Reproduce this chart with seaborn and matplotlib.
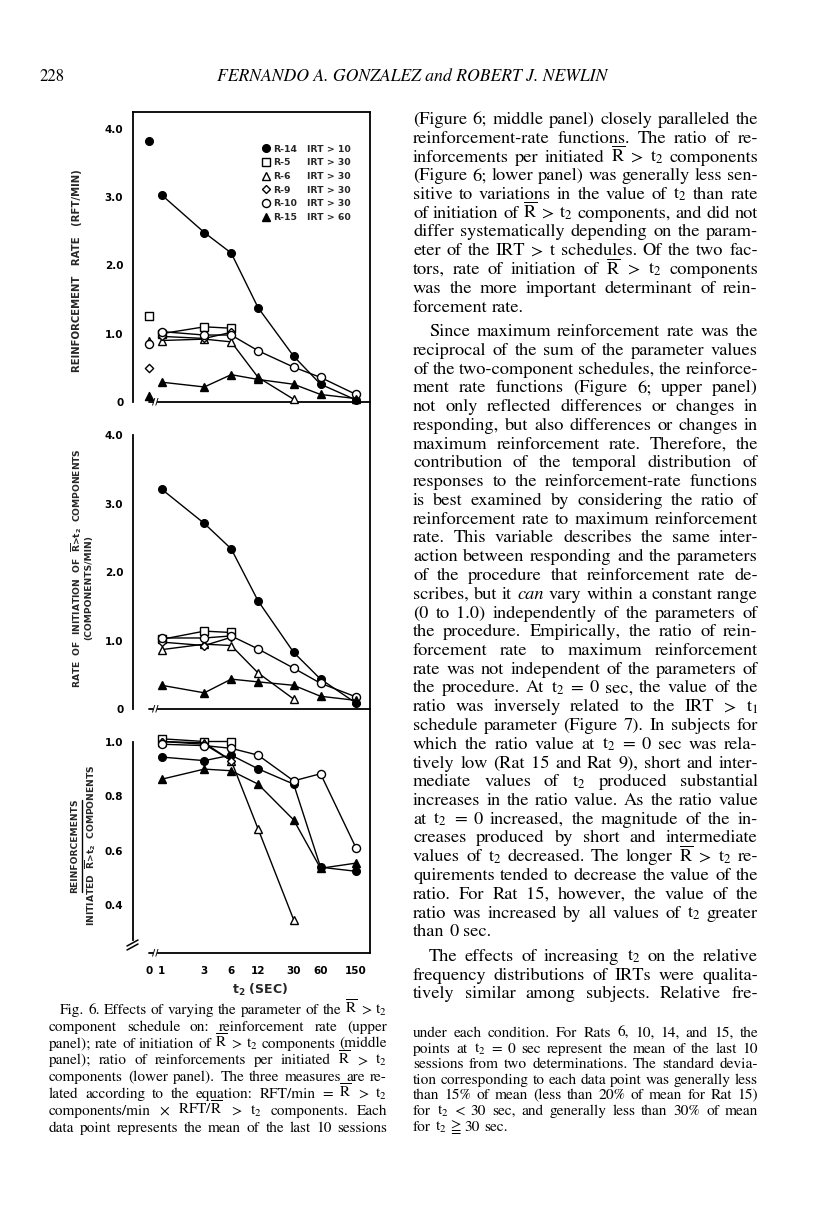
"""Fig. 6 page recreation: reinforcement rate, initiation rate and ratio vs t2."""

import matplotlib

matplotlib.use("Agg")
import matplotlib.pyplot as plt
import numpy as np
import pandas as pd
import seaborn as sns
from matplotlib.lines import Line2D
from matplotlib.transforms import blended_transform_factory

sns.set_theme(style="white")
plt.rcParams["font.family"] = ["DejaVu Sans"]
plt.rcParams["mathtext.fontset"] = "stix"

W, H = 816, 1207
SERIF = "STIXGeneral"

# ---- data -------------------------------------------------------------
T_SEC = [1, 3, 6, 12, 30, 60, 150]
TICK_SEC = [0, 1, 3, 6, 12, 30, 60, 150]
TICK_LABELS = ["0", "1", "3", "6", "12", "30", "60", "150"]
RATS = ["R-14", "R-5", "R-6", "R-9", "R-10", "R-15"]
IRT = ["IRT > 10", "IRT > 30", "IRT > 30", "IRT > 30", "IRT > 30", "IRT > 60"]
nan = np.nan

# upper panel: reinforcement rate (rft/min)
RATE_T0 = [3.82, 1.26, 0.90, 0.50, 0.85, 0.09]
RATE_R14 = [3.03, 2.48, 2.18, 1.38, 0.67, 0.26, 0.03]
RATE_R5 = [1.00, 1.10, 1.08, nan, nan, nan, nan]
RATE_R6 = [0.90, 0.92, 0.88, 0.36, 0.04, nan, nan]
RATE_R9 = [0.96, 0.93, 1.02, nan, nan, nan, nan]
RATE_R10 = [1.03, 0.98, 0.98, 0.75, 0.51, 0.36, 0.11]
RATE_R15 = [0.29, 0.22, 0.40, 0.33, 0.26, 0.11, 0.05]

# middle panel: initiations of R>t2 components per min
INIT_R14 = [3.21, 2.71, 2.34, 1.58, 0.83, 0.44, 0.09]
INIT_R5 = [1.02, 1.14, 1.12, nan, nan, nan, nan]
INIT_R6 = [0.87, 0.95, 0.93, 0.53, 0.15, nan, nan]
INIT_R9 = [0.98, 0.93, 1.05, nan, nan, nan, nan]
INIT_R10 = [1.04, 1.04, 1.07, 0.88, 0.60, 0.38, 0.18]
INIT_R15 = [0.35, 0.24, 0.44, 0.40, 0.35, 0.19, 0.13]

# lower panel: reinforcements / initiated components
RATIO_R14 = [0.943, 0.930, 0.950, 0.900, 0.844, 0.540, 0.525]
RATIO_R5 = [1.010, 1.000, 1.000, nan, nan, nan, nan]
RATIO_R6 = [1.000, 0.995, 0.930, 0.680, 0.348, nan, nan]
RATIO_R9 = [1.000, 0.990, 0.930, nan, nan, nan, nan]
RATIO_R10 = [0.990, 0.985, 0.975, 0.950, 0.856, 0.882, 0.610]
RATIO_R15 = [0.862, 0.899, 0.893, 0.844, 0.713, 0.536, 0.555]

# marker, face colour, size
STYLES = [("o", "black", 5.5), ("s", "white", 5.5), ("^", "white", 5.5),
          ("D", "white", 4.2), ("o", "white", 5.8), ("^", "black", 5.8)]


def long_frame(series):
    rows = []
    for rat, vals in zip(RATS, series):
        for t, v in zip(T_SEC, vals):
            rows.append({"rat": rat, "t": t, "v": v})
    return pd.DataFrame(rows).dropna()


rate_df = long_frame([RATE_R14, RATE_R5, RATE_R6, RATE_R9, RATE_R10, RATE_R15])
init_df = long_frame([INIT_R14, INIT_R5, INIT_R6, INIT_R9, INIT_R10, INIT_R15])
ratio_df = long_frame([RATIO_R14, RATIO_R5, RATIO_R6, RATIO_R9, RATIO_R10, RATIO_R15])
zero_df = pd.DataFrame({"rat": RATS, "t": 0, "v": RATE_T0})

# ---- figure -----------------------------------------------------------
fig = plt.figure(figsize=(W / 100, H / 100), dpi=100)
fig.patch.set_facecolor("white")


def fx(x):
    return x / W


def fy(y):
    return 1 - y / H


def add_axes_px(left, top, right, bottom):
    return fig.add_axes([fx(left), fy(bottom), (right - left) / W, (bottom - top) / H])


BRK = 0.33  # width of the 0..1 break, in log units


def fwd(x):
    x = np.asarray(x, float)
    return np.where(x >= 1, np.log(np.clip(x, 1, None)), (x - 1) * BRK)


def inv(u):
    u = np.asarray(u, float)
    return np.where(u >= 0, np.exp(np.clip(u, None, 50)), 1 + u / BRK)


ax_top = add_axes_px(133, 112, 370, 402)
ax_mid = add_axes_px(133, 435, 370, 709.3)
ax_bot = add_axes_px(133, 741.5, 370, 953)

TICK_FONT = dict(fontsize=7.5, fontweight="bold")


def draw_panel(ax, df):
    for rat, (mk, face, ms) in zip(RATS, STYLES):
        sub = df[df["rat"] == rat]
        sns.lineplot(data=sub, x="t", y="v", ax=ax, color="black", linewidth=1.0,
                     marker=mk, markerfacecolor=face, markeredgecolor="black",
                     markersize=ms, markeredgewidth=1.0, errorbar=None,
                     clip_on=False, legend=False, zorder=3)
    ax.set_xscale("function", functions=(fwd, inv))
    ax.set_xlim(-1.24, 214.6)
    ax.set_xlabel("")
    ax.set_ylabel("")
    ax.set_facecolor("none")
    for side in ["top", "right", "bottom", "left"]:
        ax.spines[side].set_visible(False)
    ax.spines["left"].set_visible(True)
    ax.spines["bottom"].set_visible(True)
    for sp in ax.spines.values():
        sp.set_color("black")
        sp.set_linewidth(1.3)
    ax.spines["bottom"].set_bounds(0.7, 214.6)
    ax.set_xticks(TICK_SEC)
    ax.tick_params(axis="both", direction="out", length=5, width=1.2, color="black",
                   pad=2, labelcolor="black")
    ax.xaxis.set_minor_locator(matplotlib.ticker.NullLocator())
    ax.yaxis.set_minor_locator(matplotlib.ticker.NullLocator())
    # axis break near t = 0
    tr = blended_transform_factory(ax.transData, ax.transAxes)
    ax.plot([0, 0.35], [0, 0], transform=tr, color="black", lw=1.3, clip_on=False)
    ax.text(0.5, 0.0, "//", transform=tr, ha="center", va="center", fontsize=6.5,
            fontweight="bold", color="black", clip_on=False)


draw_panel(ax_top, rate_df)
for rat, (mk, face, ms) in zip(RATS, STYLES):
    sns.scatterplot(data=zero_df[zero_df["rat"] == rat], x="t", y="v", ax=ax_top,
                    marker=mk, s=ms ** 2, color=face, edgecolor="black", linewidth=1.0,
                    clip_on=False, legend=False, zorder=3)
ax_top.set_xlabel("")
ax_top.set_ylabel("")
ax_top.set_ylim(0, 4.244)
ax_top.spines["top"].set_visible(True)
ax_top.set_yticks([0, 1, 2, 3, 4])
ax_top.set_yticklabels(["0", "1.0", "2.0", "3.0", "4.0"], **TICK_FONT)
ax_top.set_xticklabels([])

draw_panel(ax_mid, init_df)
ax_mid.set_ylim(0, 4.0)
ax_mid.set_yticks([0, 1, 2, 3, 4])
ax_mid.set_yticklabels(["0", "1.0", "2.0", "3.0", "4.0"], **TICK_FONT)
ax_mid.set_xticklabels([])

draw_panel(ax_bot, ratio_df)
ax_bot.set_ylim(0.226, 1.0)
ax_bot.spines["left"].set_bounds(0.275, 1.0)
ax_bot.set_yticks([0.3, 0.4, 0.5, 0.6, 0.7, 0.8, 0.9, 1.0])
ax_bot.set_yticklabels(["", "0.4", "", "0.6", "", "0.8", "", "1.0"], **TICK_FONT)
ax_bot.set_xticklabels(TICK_LABELS, **TICK_FONT)
ax_bot.tick_params(axis="x", pad=4)
ax_bot.set_xlabel(r"t$_\mathbf{2}$ (SEC)", fontsize=9, fontweight="bold",
                  va="center", math_fontfamily="dejavusans")
ax_bot.xaxis.set_label_coords((260 - 133) / 237, -(990 - 953) / (953 - 741.5))

# legend (two columns: subject, schedule)
handles = [Line2D([], [], marker=mk, ls="none", color="black", markerfacecolor=face,
                  markersize=ms, markeredgewidth=1.0) for mk, face, ms in STYLES]
blanks = [Line2D([], [], ls="none") for _ in RATS]
leg = ax_top.legend(handles + blanks, RATS + IRT, ncol=2, frameon=False,
                    loc="upper left", bbox_to_anchor=(fx(258), fy(140)),
                    bbox_transform=fig.transFigure, borderpad=0, handlelength=0.8,
                    handletextpad=0.3, columnspacing=0.0, labelspacing=0.5,
                    prop={"size": 6.7, "weight": "bold"})

# continuous right border and break marks
fig.add_artist(Line2D([fx(370), fx(370)], [fy(112), fy(953)], color="black", lw=1.3))
for dy in (0, 4):
    fig.add_artist(Line2D([fx(127), fx(138)], [fy(946 + dy), fy(940 + dy)],
                          color="black", lw=1.1))

# y-axis titles
LAB = dict(rotation=90, ha="center", va="center", fontweight="bold", fontsize=6.6,
           math_fontfamily="dejavusans")
fig.text(fx(77), fy(271), "REINFORCEMENT   RATE   (RFT/MIN)",
         **{**LAB, "fontsize": 7.3})
fig.text(fx(77), fy(568),
         r"RATE  OF  INITIATION  OF  $\overline{\mathbf{R}}$>$\mathbf{t}_\mathbf{2}$  COMPONENTS",
         **LAB)
fig.text(fx(89), fy(588), "(COMPONENTS/MIN)", **LAB)
fig.text(fx(75), fy(846), "REINFORCEMENTS", **LAB)
fig.add_artist(Line2D([fx(82), fx(82)], [fy(800), fy(892)], color="black", lw=1.0))
fig.text(fx(90.5), fy(845),
         r"INITIATED  $\overline{\mathbf{R}}$>$\mathbf{t}_\mathbf{2}$  COMPONENTS", **LAB)

# ---- page text --------------------------------------------------------
R = r"$\overline{\mathrm{R}}$"
T2 = "t$_2$"

BODY = [
    "(Figure 6; middle panel) closely paralleled the",
    "reinforcement-rate functions. The ratio of re-",
    f"inforcements per initiated {R} > {T2} components",
    "(Figure 6; lower panel) was generally less sen-",
    f"sitive to variations in the value of {T2} than rate",
    f"of initiation of {R} > {T2} components, and did not",
    "differ systematically depending on the param-",
    "eter of the IRT > t schedules. Of the two fac-",
    f"tors, rate of initiation of {R} > {T2} components",
    "was the more important determinant of rein-",
    "forcement rate.|",
    ">Since maximum reinforcement rate was the",
    "reciprocal of the sum of the parameter values",
    "of the two-component schedules, the reinforce-",
    "ment rate functions (Figure 6; upper panel)",
    "not only reflected differences or changes in",
    "responding, but also differences or changes in",
    "maximum reinforcement rate. Therefore, the",
    "contribution of the temporal distribution of",
    "responses to the reinforcement-rate functions",
    "is best examined by considering the ratio of",
    "reinforcement rate to maximum reinforcement",
    "rate. This variable describes the same inter-",
    "action between responding and the parameters",
    "of the procedure that reinforcement rate de-",
    "scribes, but it *can* vary within a constant range",
    "(0 to 1.0) independently of the parameters of",
    "the procedure. Empirically, the ratio of rein-",
    "forcement rate to maximum reinforcement",
    "rate was not independent of the parameters of",
    f"the procedure. At {T2} = 0 sec, the value of the",
    "ratio was inversely related to the IRT > t$_1$",
    "schedule parameter (Figure 7). In subjects for",
    f"which the ratio value at {T2} = 0 sec was rela-",
    "tively low (Rat 15 and Rat 9), short and inter-",
    f"mediate values of {T2} produced substantial",
    "increases in the ratio value. As the ratio value",
    f"at {T2} = 0 increased, the magnitude of the in-",
    "creases produced by short and intermediate",
    f"values of {T2} decreased. The longer {R} > {T2} re-",
    "quirements tended to decrease the value of the",
    "ratio. For Rat 15, however, the value of the",
    f"ratio was increased by all values of {T2} greater",
    "than 0 sec.|",
    f">The effects of increasing {T2} on the relative",
    "frequency distributions of IRTs were qualita-",
    "tively similar among subjects. Relative fre-",
]

CAPTION = [
    f">Fig. 6. Effects of varying the parameter of the {R} > {T2}",
    "component schedule on: reinforcement rate (upper",
    f"panel); rate of initiation of {R} > {T2} components (middle",
    f"panel); ratio of reinforcements per initiated {R} > {T2}",
    "components (lower panel). The three measures are re-",
    f"lated according to the equation: RFT/min = {R} > {T2}",
    f"components/min \u00d7 RFT/{R} > {T2} components. Each",
    "data point represents the mean of the last 10 sessions",
]

NOTE = [
    "under each condition. For Rats 6, 10, 14, and 15, the",
    f"points at {T2} = 0 sec represent the mean of the last 10",
    "sessions from two determinations. The standard devia-",
    "tion corresponding to each data point was generally less",
    "than 15% of mean (less than 20% of mean for Rat 15)",
    f"for {T2} < 30 sec, and generally less than 30% of mean",
    f"for {T2} \u2267 30 sec.|",
]

renderer = fig.canvas.get_renderer()


def place_block(lines, x0, x1, y0, dy, gap=0.0, indent=16, ref=10.0):
    rows, y = [], y0
    for raw in lines:
        ind, end = raw.startswith(">"), raw.endswith("|")
        words = raw.strip(">|").split(" ")
        texts = []
        for w in words:
            style = "italic" if w.startswith("*") else "normal"
            texts.append(fig.text(0, 0, w.strip("*"), fontsize=ref, family=SERIF,
                                  style=style, va="baseline", ha="left", color="black"))
        rows.append((texts, ind, end, y))
        y += dy + (gap if end else 0)

    def widths(ts):
        return [t.get_window_extent(renderer).width for t in ts]

    sp = 0.25 * ref * 100 / 72
    nat = max(sum(widths(ts)) + sp * (len(ts) - 1) + (indent if ind else 0)
              for ts, ind, _, _ in rows)
    size = ref * (x1 - x0) / nat
    sp = 0.25 * size * 100 / 72
    for ts, ind, end, y in rows:
        for t in ts:
            t.set_fontsize(size)
        ws = widths(ts)
        left = x0 + (indent if ind else 0)
        if end or len(ts) == 1:
            gapw = sp
        else:
            gapw = (x1 - left - sum(ws)) / (len(ts) - 1)
        x = left
        for t, w in zip(ts, ws):
            t.set_position((fx(x), fy(y)))
            x += w + gapw


place_block(BODY, 413, 758, 124, 18.75, gap=6)
place_block(CAPTION, 49, 387, 1014, 16.8, indent=11)
place_block(NOTE, 413, 758, 1037, 15.6)

fig.text(fx(40), fy(81), "228", fontsize=12, family=SERIF, va="baseline", color="black")
fig.text(fx(217), fy(81), "FERNANDO A. GONZALEZ and ROBERT J. NEWLIN", fontsize=12.7,
         family=SERIF, style="italic", va="baseline", color="black")

fig.savefig("out.png", dpi=100, facecolor="white")
